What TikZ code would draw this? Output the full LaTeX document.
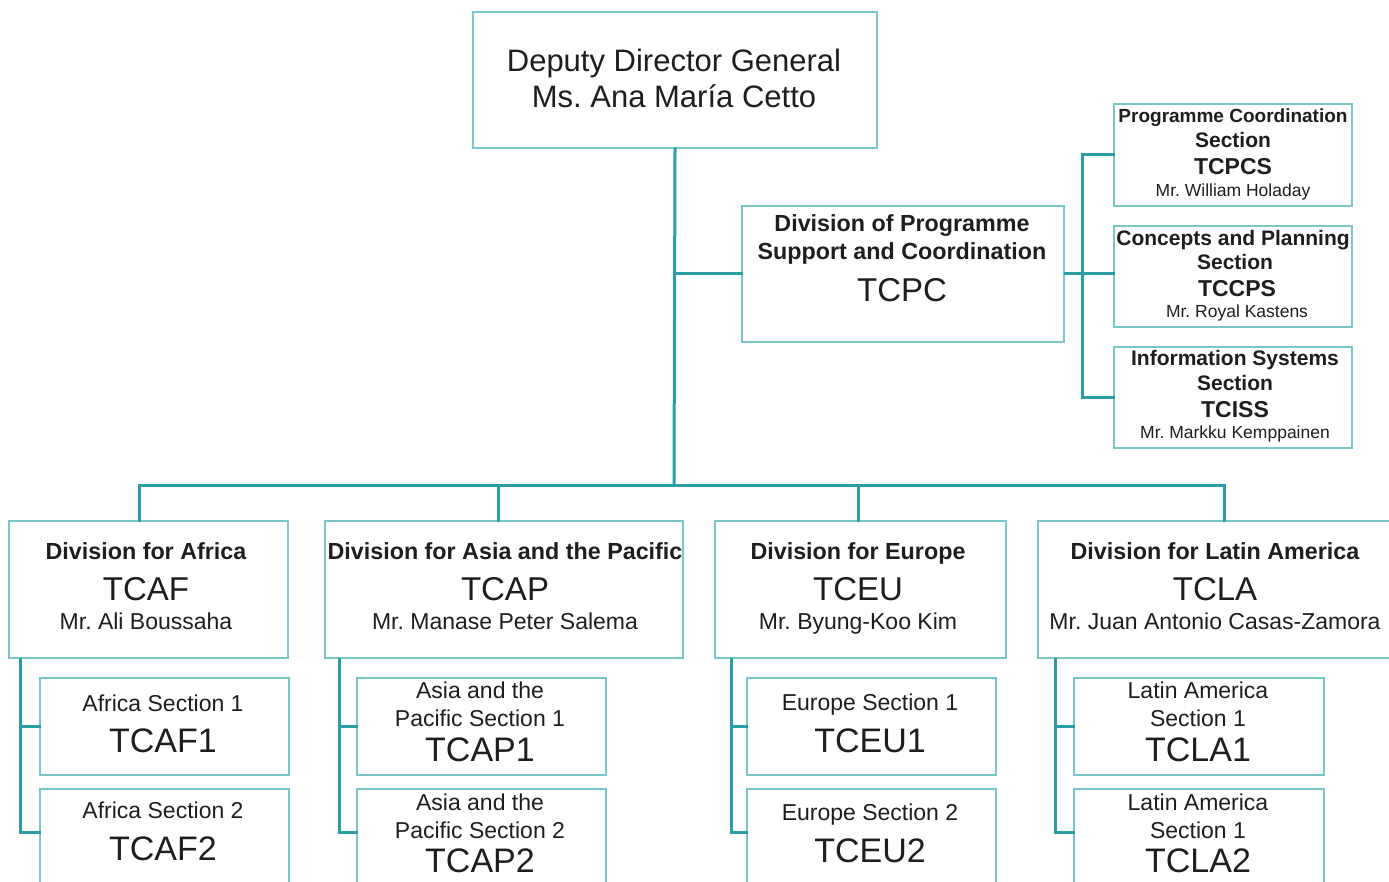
\documentclass[tikz,border=0pt]{standalone}
\usepackage{fontspec}
\setmainfont{Liberation Sans}
\frenchspacing
\definecolor{conncol}{RGB}{42,158,164}
\definecolor{edgecol}{RGB}{122,199,201}
\definecolor{inkcol}{RGB}{30,30,30}
\begin{document}
\frenchspacing
\begin{tikzpicture}[x=1pt,y=-1pt,
  box/.style={draw=edgecol,line width=2pt,fill=white,rectangle,inner sep=0pt,anchor=north west},
  conn/.style={draw=conncol,line width=3pt,line cap=rect},
  t/.style={anchor=base,inner sep=0pt,text=inkcol},
  toptxt/.style={t,font=\fontsize{31}{31}\selectfont},
  divtitle/.style={t,font=\fontsize{23.3}{24}\selectfont\bfseries},
  code/.style={t,font=\fontsize{33}{33}\selectfont},
  subcode/.style={t,font=\fontsize{34}{34}\selectfont},
  person/.style={t,font=\fontsize{23}{23}\selectfont},
  subtxt/.style={t,font=\fontsize{23}{23}\selectfont},
  sectitle/.style={t,font=\fontsize{21}{21}\selectfont\bfseries},
  seccode/.style={t,font=\fontsize{23}{23}\selectfont\bfseries},
  secperson/.style={t,font=\fontsize{17.5}{17.5}\selectfont}]
\useasboundingbox (0,0) rectangle (1389,882);
\clip (0,0) rectangle (1389,882);

% boxes
\node[box,minimum width=404pt,minimum height=136pt] (top) at (472,11) {};
\node[box,minimum width=322pt,minimum height=136pt] (tcpc) at (741,205) {};
\node[box,minimum width=238pt,minimum height=102pt] (s1) at (1113,103) {};
\node[box,minimum width=238pt,minimum height=101pt] (s2) at (1113,225) {};
\node[box,minimum width=238pt,minimum height=101pt] (s3) at (1113,346) {};
\node[box,minimum width=279pt,minimum height=137pt] (afr) at (8,520) {};
\node[box,minimum width=358pt,minimum height=137pt] (asi) at (324,520) {};
\node[box,minimum width=291pt,minimum height=137pt] (eur) at (714,520) {};
\node[box,minimum width=357pt,minimum height=137pt] (lat) at (1037,520) {};
\node[box,minimum width=249pt,minimum height=97pt] (afs1) at (39,677) {};
\node[box,minimum width=249pt,minimum height=120pt] (afs2) at (39,788) {};
\node[box,minimum width=249pt,minimum height=97pt] (ass1) at (356,677) {};
\node[box,minimum width=249pt,minimum height=120pt] (ass2) at (356,788) {};
\node[box,minimum width=249pt,minimum height=97pt] (eus1) at (746,677) {};
\node[box,minimum width=249pt,minimum height=120pt] (eus2) at (746,788) {};
\node[box,minimum width=250pt,minimum height=97pt] (las1) at (1073,677) {};
\node[box,minimum width=250pt,minimum height=120pt] (las2) at (1073,788) {};

% connectors
\coordinate (bus) at (674,485);
\coordinate (dafr) at (139,485);
\coordinate (dasi) at (498,485);
\coordinate (deur) at (858,485);
\coordinate (dlat) at (1224,485);
\draw[conn] (top.south) -- (bus);
\draw[conn] (top.south |- tcpc.west) -- (tcpc.west);
\draw[conn] (tcpc.east) -- (s2.west |- tcpc.east);
\draw[conn] (s1.west) -- ++(-31,0) |- (s3.west);
\draw[conn] (dafr) -- (dlat);
\draw[conn] (dafr) -- (dafr |- afr.north);
\draw[conn] (dasi) -- (dasi |- asi.north);
\draw[conn] (deur) -- (deur |- eur.north);
\draw[conn] (dlat) -- (dlat |- lat.north);
\draw[conn] ([xshift=12pt]afr.south west) |- ([yshift=-44pt]afs2.north west);
\draw[conn] (afs1.west) -- ++(-19,0);
\draw[conn] ([xshift=15pt]asi.south west) |- ([yshift=-44pt]ass2.north west);
\draw[conn] (ass1.west) -- ++(-17,0);
\draw[conn] ([xshift=17pt]eur.south west) |- ([yshift=-44pt]eus2.north west);
\draw[conn] (eus1.west) -- ++(-15,0);
\draw[conn] ([xshift=18pt]lat.south west) |- ([yshift=-44pt]las2.north west);
\draw[conn] (las1.west) -- ++(-18,0);

% texts
\node[toptxt] (top1) at (674,72) {Deputy Director General};
\node[toptxt] (top2) at (674,108) {Ms. Ana María Cetto};

\node[divtitle] (tc1) at (902,232) {Division of Programme};
\node[divtitle] (tc2) at (902,260) {Support and Coordination};
\node[code] (tc3) at (902,302) {TCPC};

\node[t,font=\fontsize{19}{19}\selectfont\bfseries] (s1a) at (1233,123) {Programme Coordination};
\node[sectitle] (s1b) at (1233,148) {Section};
\node[seccode] (s1c) at (1233,175) {TCPCS};
\node[secperson] (s1d) at (1233,197) {Mr. William Holaday};

\node[sectitle] (s2a) at (1233,246) {Concepts and Planning};
\node[sectitle] (s2b) at (1235,270) {Section};
\node[seccode] (s2c) at (1237,297) {TCCPS};
\node[secperson] (s2d) at (1237,318) {Mr. Royal Kastens};

\node[sectitle] (s3a) at (1235,366) {Information Systems};
\node[sectitle] (s3b) at (1235,390) {Section};
\node[seccode] (s3c) at (1235,417) {TCISS};
\node[secperson] (s3d) at (1235,438) {Mr. Markku Kemppainen};

\node[divtitle] (afr1) at (146,559) {Division for Africa};
\node[code] (afr2) at (146,600) {TCAF};
\node[person] (afr3) at (146,629) {Mr. Ali Boussaha};

\node[divtitle] (asi1) at (505,559) {Division for Asia and the Pacific};
\node[code] (asi2) at (505,600) {TCAP};
\node[person] (asi3) at (505,629) {Mr. Manase Peter Salema};

\node[divtitle] (eur1) at (858,559) {Division for Europe};
\node[code] (eur2) at (858,600) {TCEU};
\node[person] (eur3) at (858,629) {Mr. Byung-Koo Kim};

\node[divtitle] (lat1) at (1215,559) {Division for Latin America};
\node[code] (lat2) at (1215,600) {TCLA};
\node[person] (lat3) at (1215,629) {Mr. Juan Antonio Casas-Zamora};

\node[subtxt] (afs1a) at (163,711) {Africa Section 1};
\node[subcode] (afs1b) at (163,752) {TCAF1};
\node[subtxt] (afs2a) at (163,818) {Africa Section 2};
\node[subcode] (afs2b) at (163,860) {TCAF2};

\node[subtxt] (ass1a) at (480,698) {Asia and the};
\node[subtxt] (ass1b) at (480,726) {Pacific Section 1};
\node[subcode] (ass1c) at (480,761) {TCAP1};
\node[subtxt] (ass2a) at (480,810) {Asia and the};
\node[subtxt] (ass2b) at (480,838) {Pacific Section 2};
\node[subcode] (ass2c) at (480,872) {TCAP2};

\node[subtxt] (eus1a) at (870,710) {Europe Section 1};
\node[subcode] (eus1b) at (870,752) {TCEU1};
\node[subtxt] (eus2a) at (870,820) {Europe Section 2};
\node[subcode] (eus2b) at (870,862) {TCEU2};

\node[subtxt] (las1a) at (1198,698) {Latin America};
\node[subtxt] (las1b) at (1198,726) {Section 1};
\node[subcode] (las1c) at (1198,761) {TCLA1};
\node[subtxt] (las2a) at (1198,810) {Latin America};
\node[subtxt] (las2b) at (1198,838) {Section 1};
\node[subcode] (las2c) at (1198,872) {TCLA2};
\end{tikzpicture}
\end{document}
